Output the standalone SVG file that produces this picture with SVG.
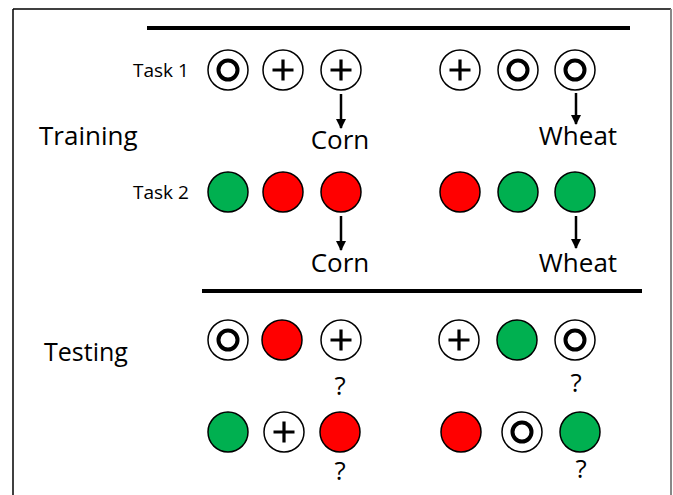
<svg xmlns="http://www.w3.org/2000/svg" width="673" height="495" viewBox="0 0 673 495">
<style>
.t{font-family:"Open Sans","Liberation Sans",sans-serif;fill:#000}
.ring{fill:#fff;stroke:#000;stroke-width:1.5}
.inner{fill:none;stroke:#000;stroke-width:4}
.plus{stroke:#000;stroke-width:3.2;fill:none}
.g{fill:#00B050;stroke:#000;stroke-width:1.5}
.r{fill:#FF0000;stroke:#000;stroke-width:1.5}
.conn{stroke:#000;stroke-width:2.5;fill:none}
</style>
<defs>
<marker id="ah" viewBox="0 0 10 10" refX="9" refY="5" markerWidth="4" markerHeight="4" orient="auto" markerUnits="strokeWidth">
<path d="M0,0 L10,5 L0,10 z" fill="#000"/>
</marker>
<g id="dbl"><circle class="ring" r="20"/><circle class="inner" r="9.5"/></g>
<g id="pls"><circle class="ring" r="20"/><path class="plus" d="M-10.5,0 H10.5 M0,-10.5 V10.5"/></g>
<circle id="grn" class="g" r="20"/>
<circle id="red" class="r" r="20"/>
</defs>
<rect width="673" height="495" fill="#fff"/>
<g id="frame">
<line x1="13" y1="9" x2="13" y2="495" stroke="#000" stroke-width="1.5"/>
<line x1="13" y1="9" x2="671" y2="9" stroke="#000" stroke-width="1.5"/>
<line x1="671" y1="9" x2="671" y2="495" stroke="#888" stroke-width="2"/>
<line x1="147" y1="28" x2="630" y2="28" stroke="#000" stroke-width="4"/>
<line x1="202" y1="291" x2="642" y2="291" stroke="#000" stroke-width="4"/>
</g>
<g id="labels">
<text class="t" x="39" y="145" font-size="26">Training</text>
<text class="t" x="44" y="361" font-size="25">Testing</text>
<text class="t" x="133" y="77" font-size="19">Task 1</text>
<text class="t" x="133" y="199" font-size="19">Task 2</text>
</g>
<g id="task1">
<use href="#dbl" x="228" y="70"/>
<use href="#pls" x="283" y="70"/>
<use href="#pls" x="341" y="70"/>
<use href="#pls" x="460" y="70"/>
<use href="#dbl" x="518" y="70"/>
<use href="#dbl" x="575" y="70"/>
</g>
<g id="task2">
<use href="#grn" x="228" y="192"/>
<use href="#red" x="283" y="192"/>
<use href="#red" x="341" y="192"/>
<use href="#red" x="460" y="192"/>
<use href="#grn" x="518" y="192"/>
<use href="#grn" x="575" y="192"/>
</g>
<g id="outcomes">
<text class="t" x="340" y="149" font-size="26" text-anchor="middle">Corn</text>
<text class="t" x="578" y="145" font-size="26" text-anchor="middle">Wheat</text>
<text class="t" x="340" y="272" font-size="26" text-anchor="middle">Corn</text>
<text class="t" x="578" y="272" font-size="26" text-anchor="middle">Wheat</text>
</g>
<g id="connectors">
<line class="conn" x1="341" y1="94" x2="341" y2="128" marker-end="url(#ah)"/>
<line class="conn" x1="576" y1="93" x2="576" y2="124" marker-end="url(#ah)"/>
<line class="conn" x1="341" y1="216" x2="341" y2="250" marker-end="url(#ah)"/>
<line class="conn" x1="576" y1="216" x2="576" y2="248" marker-end="url(#ah)"/>
</g>
<g id="test1">
<use href="#dbl" x="228" y="340"/>
<use href="#red" x="282" y="340"/>
<use href="#pls" x="341" y="340"/>
<use href="#pls" x="459" y="340"/>
<use href="#grn" x="517" y="340"/>
<use href="#dbl" x="575" y="340"/>
<text class="t" x="340" y="395" font-size="26" text-anchor="middle">?</text>
<text class="t" x="576" y="392" font-size="26" text-anchor="middle">?</text>
</g>
<g id="test2">
<use href="#grn" x="228" y="432"/>
<use href="#pls" x="284" y="432"/>
<use href="#red" x="340" y="432"/>
<use href="#red" x="461" y="432"/>
<use href="#dbl" x="522" y="432"/>
<use href="#grn" x="580" y="432"/>
<text class="t" x="340" y="480" font-size="26" text-anchor="middle">?</text>
<text class="t" x="581" y="478" font-size="26" text-anchor="middle">?</text>
</g>
</svg>
